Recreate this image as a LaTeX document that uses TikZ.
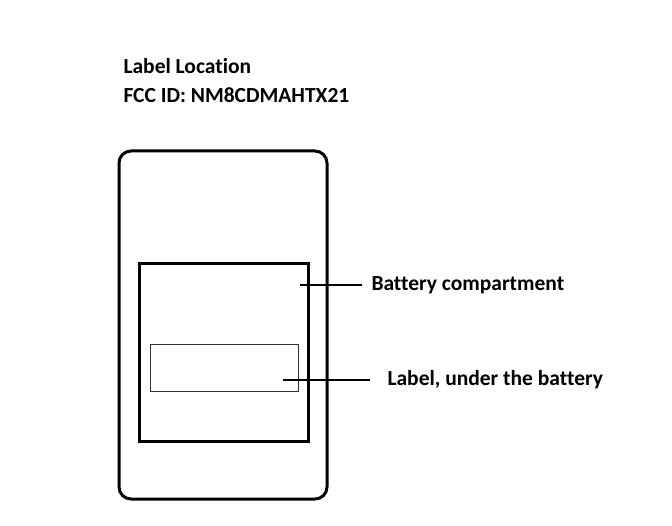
\documentclass[tikz,border=0pt]{standalone}
\usepackage{fontspec}
\setmainfont[Ligatures=NoCommon]{Carlito}
\begin{document}
\begin{tikzpicture}[x=1pt,y=-1pt,line width=3pt]
	\tikzset{
		caption/.style={font=\bfseries\fontsize{21.5}{26}\selectfont,inner sep=0pt,anchor=west},
		leader/.style={line width=2.4pt}
	}
	\useasboundingbox (0,0) rectangle (672,526);
	
	% Title
	\node[caption] (title) at (122,66) {Label Location};
	\node[caption] (fccid) at (122,95) {FCC ID: NM8CDMAHTX21};
	
	% Device outline
	\draw[rounded corners=12pt] (119,151) rectangle (327,499);
	
	% Battery compartment
	\draw (139,264) rectangle (308,441);
	
	% Label under the battery
	\draw[line width=0.8pt,black!80] (150,344) rectangle (298,391);
	
	% Callouts
	\coordinate (battpt) at (300,285);
	\node[caption] (batt) at (370,285) {Battery compartment};
	\draw[leader] (battpt) -- ([xshift=-8pt]battpt -| batt.west);
	
	\coordinate (labelpt) at (283,380);
	\node[caption] (label) at (386,380) {Label, under the battery};
	\draw[leader] (labelpt) -- ([xshift=-16pt]labelpt -| label.west);
	
\end{tikzpicture}
\end{document}
